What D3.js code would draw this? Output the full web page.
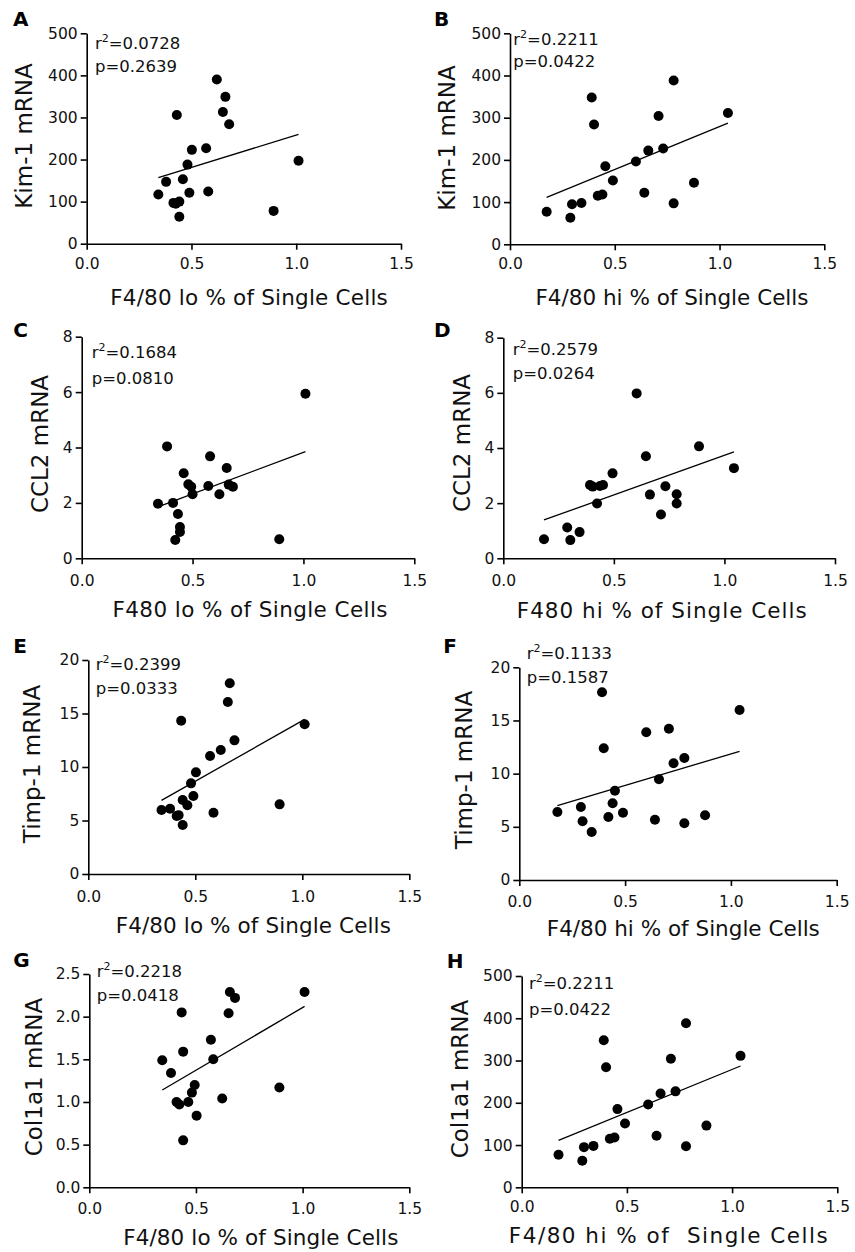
<!DOCTYPE html>
<html>
<head>
<meta charset="utf-8">
<script src="https://cdn.jsdelivr.net/npm/d3@7"></script>
<style>
  html, body { margin: 0; padding: 0; background: #fff; }
  svg { display: block; font-family: "DejaVu Sans", "Liberation Sans", sans-serif; }
</style>
</head>
<body>
<svg id="fig" width="855" height="1252"></svg>
<script>
// ---- data -------------------------------------------------------------
// Each panel: [F4/80 % of single cells, mRNA level] per mouse (n = 19)
const kim1Lo = [[0.342,117],[0.379,147],[0.414,97],[0.425,95],[0.430,306],[0.442,100],[0.442,64],
  [0.459,153],[0.481,188],[0.490,121],[0.502,223],[0.570,227],[0.580,124],[0.621,390],[0.650,313],
  [0.662,349],[0.680,284],[0.892,78],[1.011,197]];
const kim1Hi = [[0.175,77],[0.288,63],[0.296,95],[0.341,98],[0.390,348],[0.401,284],[0.419,115],
  [0.441,118],[0.455,185],[0.491,151],[0.601,196],[0.641,122],[0.660,222],[0.709,304],[0.731,227],
  [0.781,388],[0.781,97],[0.878,146],[1.040,311]];
const ccl2Lo = [[0.344,1.97],[0.385,4.04],[0.412,2.00],[0.434,1.60],[0.443,1.13],[0.443,0.95],[0.422,0.66],
  [0.460,3.07],[0.481,2.67],[0.494,2.58],[0.500,2.31],[0.571,2.61],[0.579,3.68],[0.621,2.31],[0.654,3.26],
  [0.663,2.66],[0.682,2.58],[0.891,0.69],[1.009,5.94]];
const ccl2Hi = [[0.184,0.69],[0.289,1.12],[0.303,0.66],[0.345,0.95],[0.392,2.66],[0.404,2.60],[0.424,1.99],
  [0.437,2.62],[0.451,2.66],[0.494,3.08],[0.603,5.98],[0.645,3.70],[0.663,2.31],[0.713,1.59],[0.733,2.61],
  [0.784,2.32],[0.784,1.99],[0.885,4.06],[1.043,3.27]];
const timp1Lo = [[0.342,5.98],[0.382,6.10],[0.413,5.42],[0.422,5.50],[0.434,14.33],[0.441,4.58],[0.441,6.92],
  [0.463,6.42],[0.480,8.47],[0.491,7.29],[0.503,9.50],[0.569,11.03],[0.585,5.73],[0.619,11.59],[0.652,16.07],
  [0.661,17.82],[0.683,12.49],[0.894,6.51],[1.011,13.99]];
const timp1Hi = [[0.180,6.39],[0.291,6.87],[0.299,5.52],[0.342,4.51],[0.391,17.65],[0.399,12.38],[0.421,5.92],
  [0.441,7.21],[0.452,8.40],[0.490,6.33],[0.600,13.89],[0.641,5.67],[0.660,9.47],[0.707,14.23],[0.729,10.97],
  [0.780,11.47],[0.780,5.33],[0.878,6.08],[1.041,15.99]];
const col1a1Lo = [[0.342,1.49],[0.383,1.34],[0.409,1.00],[0.422,0.97],[0.433,2.05],[0.440,1.59],[0.440,0.55],
  [0.464,1.00],[0.481,1.11],[0.494,1.20],[0.503,0.84],[0.570,1.73],[0.581,1.50],[0.623,1.04],[0.653,2.04],
  [0.659,2.29],[0.683,2.22],[0.891,1.17],[1.009,2.29]];
const col1a1Hi = [[0.175,77],[0.288,63],[0.296,95],[0.341,98],[0.390,348],[0.401,284],[0.419,115],
  [0.441,118],[0.455,185],[0.491,151],[0.601,196],[0.641,122],[0.660,222],[0.709,304],[0.731,227],
  [0.781,388],[0.781,97],[0.878,146],[1.040,311]];

// Linear-regression lines, as [start, end] points in data units
const kim1LoFit   = [[0.342,157],[1.011,260]];
const kim1HiFit   = [[0.175,111],[1.040,287]];
const ccl2LoFit   = [[0.344,1.86],[1.009,3.85]];
const ccl2HiFit   = [[0.184,1.39],[1.043,3.86]];
const timp1LoFit  = [[0.342,6.88],[1.011,14.45]];
const timp1HiFit  = [[0.180,6.99],[1.041,12.10]];
const col1a1LoFit = [[0.342,1.14],[1.009,2.12]];
const col1a1HiFit = [[0.175,111],[1.040,287]];

const r2Values = ["0.0728","0.2211","0.1684","0.2579","0.2399","0.1133","0.2218","0.2211"];
const pValues  = ["0.2639","0.0422","0.0810","0.0264","0.0333","0.1587","0.0418","0.0422"];

const xTicks = [0, 0.5, 1.0, 1.5];
const xTickLabels = ["0.0","0.5","1.0","1.5"];
const kim1Ticks = [0,100,200,300,400,500];
const ccl2Ticks = [0,2,4,6,8];
const timp1Ticks = [0,5,10,15,20];
const col1a1LoTicks = [0,0.5,1.0,1.5,2.0,2.5];
const col1a1LoTickLabels = ["0.0","0.5","1.0","1.5","2.0","2.5"];

const panelLetters = ["A","B","C","D","E","F","G","H"];
const yTitles = ["Kim-1 mRNA","Kim-1 mRNA","CCL2 mRNA","CCL2 mRNA","Timp-1 mRNA","Timp-1 mRNA","Col1a1 mRNA","Col1a1 mRNA"];
const xTitles = ["F4/80 lo % of Single Cells","F4/80 hi % of Single Cells",
  "F480 lo % of Single Cells","F480 hi % of Single Cells",
  "F4/80 lo % of Single Cells","F4/80 hi % of Single Cells",
  "F4/80 lo % of Single Cells","F4/80 hi % of  Single Cells"];

// ---- layout -----------------------------------------------------------
const panels = [
  {pts: kim1Lo,   fit: kim1LoFit,   yTicks: kim1Ticks,     yFmt: d => d3.format("d")(d),
   x0: 86.7, x1: 401,   y0: 243.7, yTop: 33.3,  letter: [13, 26],    yT: [32, 136],    xT: [249, 305],   xLs: 0.2, st: [95, 48.5, 71.5],   xPad: 8},
  {pts: kim1Hi,   fit: kim1HiFit,   yTicks: kim1Ticks,     yFmt: d => d3.format("d")(d),
   x0: 510,  x1: 824.3, y0: 244.3, yTop: 33.3,  letter: [434, 26],   yT: [455, 138],   xT: [672, 305],   xLs: 0,   st: [513.3, 45, 67.3],  xPad: 8},
  {pts: ccl2Lo,   fit: ccl2LoFit,   yTicks: ccl2Ticks,     yFmt: d => d3.format("d")(d),
   x0: 81.7, x1: 414.3, y0: 558.3, yTop: 336.7, letter: [13.3, 337.3], yT: [48.3, 444], xT: [250, 617],   xLs: 0.4, st: [91.7, 358.3, 384], xPad: 11},
  {pts: ccl2Hi,   fit: ccl2HiFit,   yTicks: ccl2Ticks,     yFmt: d => d3.format("d")(d),
   x0: 503.3, x1: 835,  y0: 558.3, yTop: 337.7, letter: [434, 336.7], yT: [470, 443],  xT: [661.7, 618], xLs: 1.0, st: [512.7, 355, 379.3], xPad: 11},
  {pts: timp1Lo,  fit: timp1LoFit,  yTicks: timp1Ticks,    yFmt: d => d3.format("d")(d),
   x0: 88.3, x1: 409.3, y0: 874,   yTop: 660,   letter: [13.3, 653.3], yT: [40, 764],   xT: [253.3, 933], xLs: 0.1, st: [95.7, 670, 694],   xPad: 10.5},
  {pts: timp1Hi,  fit: timp1HiFit,  yTicks: timp1Ticks,    yFmt: d => d3.format("d")(d),
   x0: 519.3, x1: 836.7, y0: 880,  yTop: 667.3, letter: [443.3, 653.3], yT: [472, 770], xT: [683.3, 936], xLs: 0,   st: [526.7, 659.3, 682.7], xPad: 10},
  {pts: col1a1Lo, fit: col1a1LoFit, yTicks: col1a1LoTicks, yFmt: (d, i) => col1a1LoTickLabels[i],
   x0: 89.3, x1: 409.3, y0: 1187.3, yTop: 974,  letter: [13.3, 967.3], yT: [41.7, 1077], xT: [260.8, 1245], xLs: 0.1, st: [96.7, 976.7, 1000.7], xPad: 10},
  {pts: col1a1Hi, fit: col1a1HiFit, yTicks: kim1Ticks,     yFmt: d => d3.format("d")(d),
   x0: 521.7, x1: 837.3, y0: 1187.3, yTop: 976, letter: [446.7, 968.3], yT: [468.3, 1079], xT: [668.3, 1243], xLs: 1.5, st: [529, 989.3, 1015], xPad: 8}
];

const ink = "#111";
const svg = d3.select("#fig");

panels.forEach((P, i) => {
  const g = svg.append("g");
  const x = d3.scaleLinear().domain([0, 1.5]).range([P.x0, P.x1]);
  const y = d3.scaleLinear().domain([0, d3.max(P.yTicks)]).range([P.y0, P.yTop]);

  // axes
  const xAxis = g.append("g").attr("transform", `translate(0,${P.y0})`)
    .call(d3.axisBottom(x).tickValues(xTicks).tickFormat((d, k) => xTickLabels[k])
      .tickSize(6).tickSizeOuter(0).tickPadding(P.xPad));
  const yAxis = g.append("g").attr("transform", `translate(${P.x0},0)`)
    .call(d3.axisLeft(y).tickValues(P.yTicks).tickFormat(P.yFmt)
      .tickSize(6).tickSizeOuter(0).tickPadding(3));
  [xAxis, yAxis].forEach(a => {
    a.attr("font-family", null).attr("font-size", null);
    a.selectAll("path, line").attr("stroke", "#000").attr("stroke-width", 1.6);
    a.selectAll("text").attr("fill", ink).style("font-size", "15.5px");
  });

  // regression line
  g.append("line")
    .attr("x1", x(P.fit[0][0])).attr("y1", y(P.fit[0][1]))
    .attr("x2", x(P.fit[1][0])).attr("y2", y(P.fit[1][1]))
    .attr("stroke", "#000").attr("stroke-width", 1.3);

  // points
  g.selectAll("circle.pt").data(P.pts).join("circle")
    .attr("class", "pt")
    .attr("cx", d => x(d[0])).attr("cy", d => y(d[1]))
    .attr("r", 5).attr("fill", "#000");

  // panel letter
  g.append("text").attr("x", P.letter[0]).attr("y", P.letter[1])
    .attr("fill", "#000").style("font-size", "20px").style("font-weight", "bold")
    .text(panelLetters[i]);

  // y title
  g.append("text")
    .attr("transform", `translate(${P.yT[0]},${P.yT[1]}) rotate(-90)`)
    .attr("text-anchor", "middle").attr("fill", ink).style("font-size", "23px")
    .text(yTitles[i]);

  // x title
  g.append("text").attr("x", P.xT[0] + P.xLs / 2).attr("y", P.xT[1])
    .attr("text-anchor", "middle").attr("fill", ink).style("font-size", "21.5px")
    .style("letter-spacing", P.xLs + "px")
    .style("white-space", "pre")
    .text(xTitles[i]);

  // statistics
  const r2 = g.append("text").attr("x", P.st[0]).attr("y", P.st[1])
    .attr("fill", ink).style("font-size", "16.5px");
  r2.append("tspan").text("r");
  r2.append("tspan").attr("dy", -7).style("font-size", "11px").text("2");
  r2.append("tspan").attr("dy", 7).text("=" + r2Values[i]);
  g.append("text").attr("x", P.st[0]).attr("y", P.st[2])
    .attr("fill", ink).style("font-size", "16.5px")
    .text("p=" + pValues[i]);
});
</script>
</body>
</html>
